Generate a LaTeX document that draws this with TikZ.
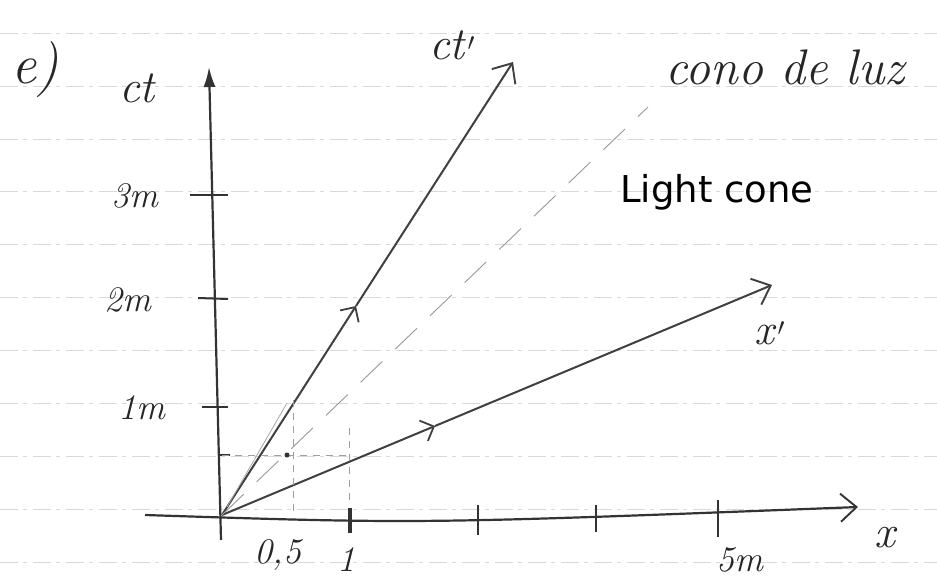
\documentclass[tikz,border=0pt]{standalone}
\usepackage{fontspec}
\newfontfamily\printfont{DejaVu Sans}
\usetikzlibrary{arrows.meta}
\tikzset{
  paperline/.style={gray!30, line width=0.5pt, dash pattern=on 18pt off 5pt on 4pt off 6pt},
  axisline/.style={black!80, line width=2.2pt},
  frameline/.style={black!75, line width=2pt},
  guide/.style={gray!75, line width=0.8pt, dash pattern=on 7pt off 6pt},
  conedash/.style={gray!80, line width=0.9pt, dash pattern=on 30pt off 18pt},
  tickmark/.style={black!80, line width=2pt},
  hand/.style={font=\itshape\fontsize{36}{38}\selectfont, text=black!85},
  midarrow/.style={-{Straight Barb[length=11pt,width=22pt,line width=1.8pt]}},
  openhead/.style={-{Straight Barb[length=16pt,width=28pt,line width=1.9pt]}},
}
\begin{document}
\begin{tikzpicture}[x=1pt,y=-1pt]
  \useasboundingbox[fill=white] (0,0) rectangle (937,580);
  % ruled paper
  \foreach \k in {0,...,10}
    \draw[paperline] (0,33+52.9*\k) -- (937,33+52.9*\k);

  \coordinate (O) at (222,515);

  % axes
  \coordinate (ctbot) at (221,540);
  \coordinate (cttop) at (209,67);
  \draw[axisline,-{Latex[length=20pt,width=12pt]}] (ctbot) -- (cttop);
  \coordinate (xleft) at (145,515);
  \coordinate (xright) at (858,507);
  \draw[axisline,openhead] (xleft) .. controls (420,524) .. (xright);

  % ticks on ct
  \draw[tickmark] (190,195) -- (228,195);
  \draw[tickmark] (198,298) -- (228,299);
  \draw[tickmark] (202,407) -- (228,407);
  \draw[tickmark] (220,455) -- (230,455);
  % ticks on x
  \draw[tickmark,line width=3.5pt] (350,508) -- (350,533);
  \draw[tickmark] (478,505) -- (478,535);
  \draw[tickmark] (596,505) -- (596,532);
  \draw[tickmark] (718,500) -- (718,537);

  % moving frame
  \coordinate (ctmid) at (356,306);
  \coordinate (ctend) at (513,62);
  \draw[frameline,midarrow] (O) -- (ctmid);
  \draw[frameline,openhead] (ctmid) -- (ctend);
  \draw[gray!70, line width=0.8pt] (227,507) -- (287,403);
  \coordinate (xmid) at (435,426);
  \coordinate (xend) at (772,285);
  \draw[frameline,midarrow] (O) -- (xmid);
  \draw[frameline,openhead] (xmid) -- (xend);

  % light cone
  \coordinate (cone) at (648,107);
  \draw[conedash] (O) -- (cone);

  % construction lines
  \draw[guide] (293,400) -- (293,513);
  \draw[guide] (349,428) -- (349,505);
  \draw[guide] (222,455) -- (349,455);
  \fill[black!80] (287,455) circle (2.5pt);

  % labels
  \node[hand, font=\itshape\fontsize{56}{58}\selectfont] (lbl-e) at (35,70) {e)};
  \node[hand, font=\itshape\fontsize{46}{48}\selectfont] (lbl-ct) at (137,88) {ct};
  \node[hand, font=\itshape\fontsize{46}{48}\selectfont] (lbl-ctp) at (452,45) {ct\kern3pt$'$};
  \node[hand, font=\itshape\fontsize{44}{46}\selectfont] (lbl-xp) at (770,333) {x\kern3pt$'$};
  \node[hand, font=\itshape\fontsize{46}{48}\selectfont] (lbl-x) at (885,538) {x};
  \node[hand] (lbl-3m) at (135,196) {3m};
  \node[hand] (lbl-2m) at (128,300) {2m};
  \node[hand] (lbl-1m) at (142,408) {1m};
  \node[hand] (lbl-05) at (278,555) {0,5};
  \node[hand] (lbl-1) at (346,560) {1};
  \node[hand] (lbl-5m) at (740,560) {5m};
  \node[hand, font=\itshape\fontsize{50}{52}\selectfont, anchor=base west] (lbl-luz) at (662,85) {cono de luz};
  \node[anchor=base west, inner sep=0pt, font=\printfont\fontsize{37}{40}\selectfont] (lbl-light) at (620,203) {Light cone};
\end{tikzpicture}
\end{document}
